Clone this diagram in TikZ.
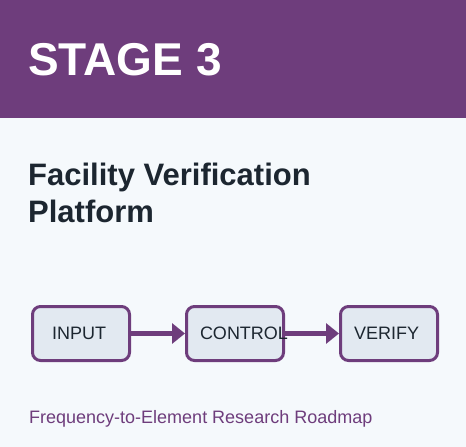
\documentclass[tikz,border=0pt]{standalone}
\usepackage{fontspec}
\setmainfont{Liberation Sans}
\usepackage{xcolor}
\usetikzlibrary{positioning,arrows.meta}
\definecolor{stagepurple}{HTML}{6E3D7C}
\definecolor{pagebg}{HTML}{F5F9FC}
\definecolor{boxfill}{HTML}{E2E9F1}
\definecolor{inktext}{HTML}{1C2630}
\tikzset{
  stepbox/.style={draw=stagepurple, line width=3pt, fill=boxfill,
    rounded corners=8pt, minimum width=97pt, minimum height=54pt,
    text width=70pt, inner xsep=13.5pt, align=left, text=inktext,
    font=\fontsize{18}{21}\selectfont},
  flow/.style={draw=stagepurple, line width=4.5pt,
    -{Triangle[length=13pt,width=20pt]}}
}

\begin{document}
\begin{tikzpicture}[x=1pt,y=-1pt]
    \useasboundingbox (0,0) rectangle (466,447);
    \fill[pagebg] (0,0) rectangle (466,447);
    \fill[stagepurple] (0,0) rectangle (466,118);
    \node[anchor=base west, inner sep=0pt, text=white,
      font=\fontsize{46}{52}\selectfont\bfseries] (stage) at (28,75) {STAGE 3};
    \node[anchor=base west, inner sep=0pt, text=inktext, align=left,
      font=\fontsize{31}{37}\selectfont\bfseries] (title) at (28,222)
      {Facility Verification\\Platform};
    \node[stepbox, inner xsep=19.5pt, text width=58pt] (input) at (81,333.5) {INPUT};
    \node[stepbox, right=54pt of input] (control) {CONTROL};
    \node[stepbox, right=54pt of control] (verify) {VERIFY};
    \draw[flow] (input) -- (control);
    \draw[flow] (control) -- (verify);
    \node[anchor=base west, inner sep=0pt, text=stagepurple,
      font=\fontsize{18}{21}\selectfont] (roadmap) at (29,423)
      {Frequency-to-Element Research Roadmap};
\end{tikzpicture}
\end{document}
